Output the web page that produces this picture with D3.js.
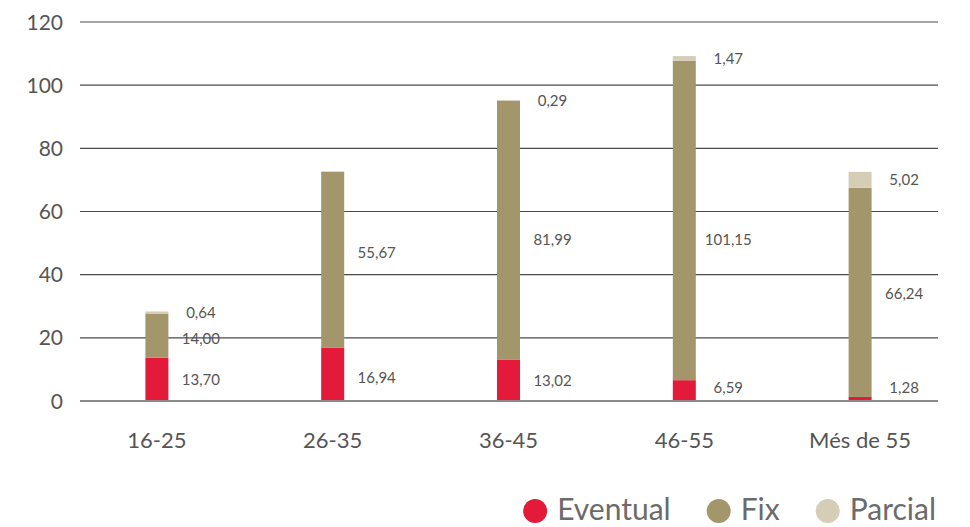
<!DOCTYPE html>
<html lang="ca">
<head>
<meta charset="UTF-8">
<title>Plantilla per edat i tipus de contracte</title>
<style>
  body { margin: 0; background: #fff; font-family: Lato, "Open Sans", sans-serif; }
  svg { display: block; }
  .tick-label { fill: #555; font-size: 21px; }
  .x-label { fill: #555; font-size: 22px; }
  .value-label { fill: #555; font-size: 15px; text-anchor: middle; }
  .legend-label { fill: #6b6b6b; font-size: 30px; }
</style>
</head>
<body>
<div id="chart"></div>
<script src="https://d3js.org/d3.v7.min.js"></script>
<script>
// Dades
const categories = ["16-25", "26-35", "36-45", "46-55", "Més de 55"];
const eventual = [13.70, 16.94, 13.02, 6.59, 1.28];
const fix = [14.00, 55.67, 81.99, 101.15, 66.24];
const parcial = [0.64, 0, 0.29, 1.47, 5.02];
const seriesNames = ["Eventual", "Fix", "Parcial"];
const yTicks = [0, 20, 40, 60, 80, 100, 120];

const colors = ["#e31a3a", "#a4966b", "#d6cdb7"];

// petits desplaçaments verticals (px) de les etiquetes, com a l'original
const labelNudge = {
  "Fix": [3, -7, 9, 19, 1]
};

const width = 970, height = 527;
const svg = d3.select("#chart").append("svg")
  .attr("width", width).attr("height", height);

const x = d3.scaleBand().domain(categories).range([69, 948]).paddingInner(0);
const y = d3.scaleLinear().domain([0, 120]).range([401, 22]);
const barW = 23;

// graella
svg.append("g").selectAll("line")
  .data(yTicks.filter(d => d > 0))
  .join("line")
  .attr("x1", 80).attr("x2", 938)
  .attr("y1", d => y(d)).attr("y2", d => y(d))
  .attr("stroke", "#4a4a4a").attr("stroke-width", 1.2);

// etiquetes eix Y
svg.append("g").selectAll("text")
  .data(yTicks)
  .join("text")
  .attr("class", "tick-label")
  .attr("x", 63).attr("y", d => y(d))
  .attr("dy", "0.36em")
  .attr("text-anchor", "end")
  .text(d => d);

// dades apilades
const rows = categories.map((c, i) => ({
  cat: c, Eventual: eventual[i], Fix: fix[i], Parcial: parcial[i]
}));
const stack = d3.stack().keys(seriesNames)(rows);

const groups = svg.append("g").selectAll("g")
  .data(stack)
  .join("g")
  .attr("fill", (d, i) => colors[i]);

groups.selectAll("rect")
  .data(d => d)
  .join("rect")
  .attr("x", d => x(d.data.cat) + x.bandwidth() / 2 - barW / 2)
  .attr("width", barW)
  .attr("y", d => y(d[1]))
  .attr("height", d => y(d[0]) - y(d[1]));

// línia base
svg.append("line")
  .attr("x1", 80).attr("x2", 938)
  .attr("y1", y(0)).attr("y2", y(0))
  .attr("stroke", "#8a8a8a").attr("stroke-width", 2);

// etiquetes de valors
const fmt = v => v.toFixed(2).replace(".", ",");
stack.forEach((s, si) => {
  const nudge = labelNudge[s.key] || [0, 0, 0, 0, 0];
  svg.append("g").selectAll("text")
    .data(s.filter(d => d[1] - d[0] > 0))
    .join("text")
    .attr("class", "value-label")
    .attr("x", d => x(d.data.cat) + x.bandwidth() / 2 + 44)
    .attr("y", d => {
      const i = categories.indexOf(d.data.cat);
      const mid = (y(d[0]) + y(d[1])) / 2;
      let yy = mid + nudge[i];
      if (s.key === "Eventual") yy = Math.min(Math.max(mid, 378), 388);
      return yy;
    })
    .attr("dy", "0.36em")
    .text(d => fmt(d[1] - d[0]));
});

// etiquetes eix X
svg.append("g").selectAll("text")
  .data(categories)
  .join("text")
  .attr("class", "x-label")
  .attr("x", d => x(d) + x.bandwidth() / 2)
  .attr("y", 440)
  .attr("dy", "0.36em")
  .attr("text-anchor", "middle")
  .text(d => d);

// llegenda, alineada a la dreta
const legend = svg.append("g");
let lx = 0;
seriesNames.forEach((name, i) => {
  const g = legend.append("g").attr("transform", `translate(${lx},0)`);
  g.append("circle").attr("cx", 12).attr("cy", 2).attr("r", 12).attr("fill", colors[i]);
  const t = g.append("text").attr("class", "legend-label")
    .attr("x", 34).attr("y", 0).attr("dy", "0.36em").text(name);
  lx += 34 + t.node().getComputedTextLength() + 36;
});
const legendW = lx - 36;
legend.attr("transform", `translate(${936 - legendW},509)`);
</script>
</body>
</html>
